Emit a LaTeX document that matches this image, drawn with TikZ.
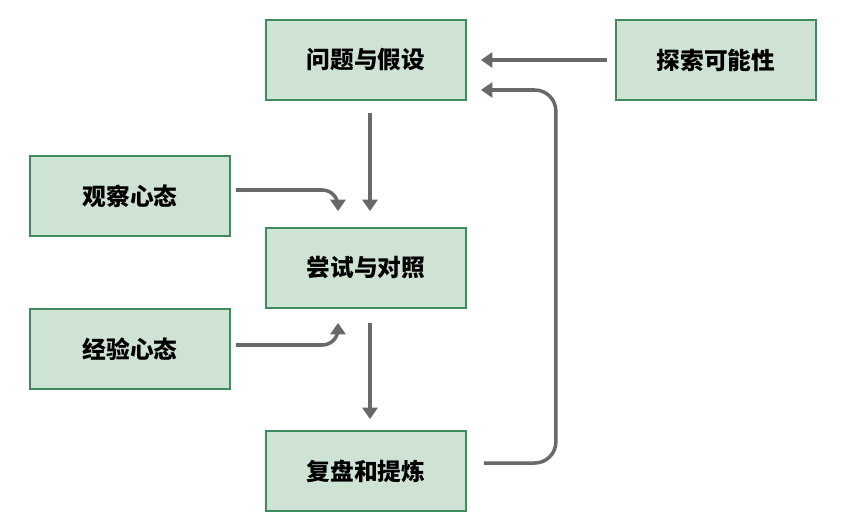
\documentclass[tikz,border=0pt]{standalone}
\usepackage{fontspec}
\setmainfont{Noto Sans CJK SC}
\usetikzlibrary{positioning,arrows.meta,calc}
\definecolor{boxfill}{RGB}{207,227,213}
\definecolor{boxline}{RGB}{62,139,94}
\definecolor{arrgray}{RGB}{105,105,105}

\begin{document}
\begin{tikzpicture}[font=\fontsize{13.5}{15}\selectfont\bfseries,
  box/.style={draw=boxline,fill=boxfill,line width=1pt,minimum width=4cm,minimum height=1.6cm,align=center},
  arr/.style={-{Triangle[length=6.5pt,width=8.5pt]},draw=arrgray,line width=2pt}]
\useasboundingbox (0,0) rectangle (16.94,-10.56);
\node[box] (hyp) at (7.32,-1.2) {问题与假设};
\node[box] (explore) at (14.32,-1.2) {探索可能性};
\node[box] (observe) at (2.6,-3.92) {观察心态};
\node[box] (trial) at (7.32,-5.36) {尝试与对照};
\node[box] (exper) at (2.6,-6.98) {经验心态};
\node[box] (review) at (7.32,-9.42) {复盘和提炼};
% arrow ends beside the boxes
\coordinate (tin1) at ([xshift=-0.56cm,yshift=0.32cm]trial.north);
\coordinate (tin2) at ([xshift=-0.56cm,yshift=-0.28cm]trial.south);
\coordinate (hin) at ([xshift=0.28cm,yshift=-0.6cm]hyp.east);
\draw[arr] ([xshift=0.08cm,yshift=-0.24cm]hyp.south) -- ([xshift=0.08cm,yshift=0.32cm]trial.north);
\draw[arr] ([xshift=-0.16cm]explore.west) -- ([xshift=0.28cm]hyp.east);
\draw[arr,rounded corners=9pt] ([xshift=0.1cm,yshift=0.12cm]observe.east) -| (tin1);
\draw[arr,rounded corners=9pt] ([xshift=0.1cm,yshift=0.08cm]exper.east) -| (tin2);
\draw[arr] ([xshift=0.08cm,yshift=-0.28cm]trial.south) -- ([xshift=0.08cm,yshift=0.22cm]review.north);
\draw[arr,rounded corners=12pt] ([xshift=0.34cm,yshift=0.16cm]review.east) -- ++(1.44,0) |- (hin);
\end{tikzpicture}
\end{document}
